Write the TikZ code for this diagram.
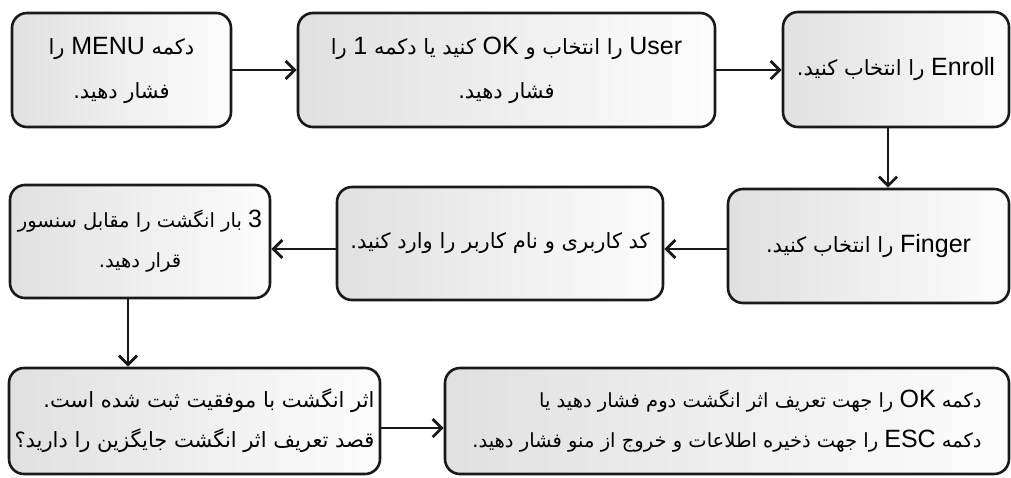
\documentclass[tikz,border=0pt]{standalone}
\usepackage{fontspec}
\setmainfont{Liberation Sans}
\newfontfamily\fa[Script=Arabic]{DejaVu Sans}
\TeXXeTstate=1
\usetikzlibrary{arrows.meta,calc}
\newcommand\lat[1]{\beginL{\rmfamily\fontsize{25}{40}\selectfont #1}\endL}
\newcommand\rl[1]{\beginR #1\endR}
\begin{document}
\begin{tikzpicture}[x=1pt,y=-1pt,
  box/.style={draw=black!90, line width=2.6pt, rounded corners=15pt,
    left color=black!12, right color=black!1, inner sep=0pt,
    align=center, font=\fa\fontsize{21}{44}\selectfont},
  arr/.style={line width=2.2pt, draw=black!90,
    -{Straight Barb[length=9pt,width=18pt,line width=2.8pt]}}]
\useasboundingbox (0,0) rectangle (1011,477);

\node[box, minimum width=219pt, minimum height=114pt] (b1) at (121.5,70)
  {\rl{دکمه \lat{MENU} را}\\\rl{فشار دهید.}};
\node[box, minimum width=417pt, minimum height=114pt] (b2) at (506.5,70)
  {\rl{\lat{User} را انتخاب و \lat{OK} کنید یا دکمه \lat{1} را}\\\rl{فشار دهید.}};
\node[box, minimum width=226pt, minimum height=115pt] (b3) at (896,69.5)
  {\rl{\lat{Enroll} را انتخاب کنید.}};
\node[box, minimum width=281pt, minimum height=114pt] (b4) at (868.5,246)
  {\rl{\lat{Finger} را انتخاب کنید.}};
\node[box, minimum width=326pt, minimum height=113pt] (b5) at (500,243.5)
  {\rl{کد کاربری و نام کاربر را وارد کنید.}};
\node[box, font=\fa\fontsize{19.5}{40}\selectfont, minimum width=260pt, minimum height=113pt] (b6) at (140,241.5)
  {\rl{\lat{3} بار انگشت را مقابل سنسور}\\\rl{قرار دهید.}};
\node[box, font=\fa\fontsize{21}{40}\selectfont, align=right, minimum width=371pt, minimum height=106pt] (b7) at (194.5,421)
  {\rl{اثر انگشت با موفقیت ثبت شده است.}\\\rl{قصد تعریف اثر انگشت جایگزین را دارید؟}};
\node[box, font=\fa\fontsize{19.5}{40}\selectfont, align=right, minimum width=564pt, minimum height=106pt] (b8) at (727,421)
  {\rl{دکمه \lat{OK} را جهت تعریف اثر انگشت دوم فشار دهید یا}\\\rl{دکمه \lat{ESC} را جهت ذخیره اطلاعات و خروج از منو فشار دهید.}};

\coordinate (p3) at ($(b3.south)+(-8,0)$);
\coordinate (p4) at ($(b4.west)+(0,3)$);
\coordinate (p5) at ($(b5.west)+(0,5.5)$);
\coordinate (p6) at ($(b6.south)+(-12,0)$);
\coordinate (p7) at ($(b7.east)+(0,7)$);

\draw[arr] (b1.east) -- (b2.west);
\draw[arr] (b2.east) -- (b2.east -| b3.west);
\draw[arr] (p3) -- (p3 |- b4.north);
\draw[arr] (p4) -- (p4 -| b5.east);
\draw[arr] (p5) -- (p5 -| b6.east);
\draw[arr] (p6) -- (p6 |- b7.north);
\draw[arr] (p7) -- (p7 -| b8.west);
\end{tikzpicture}
\end{document}
